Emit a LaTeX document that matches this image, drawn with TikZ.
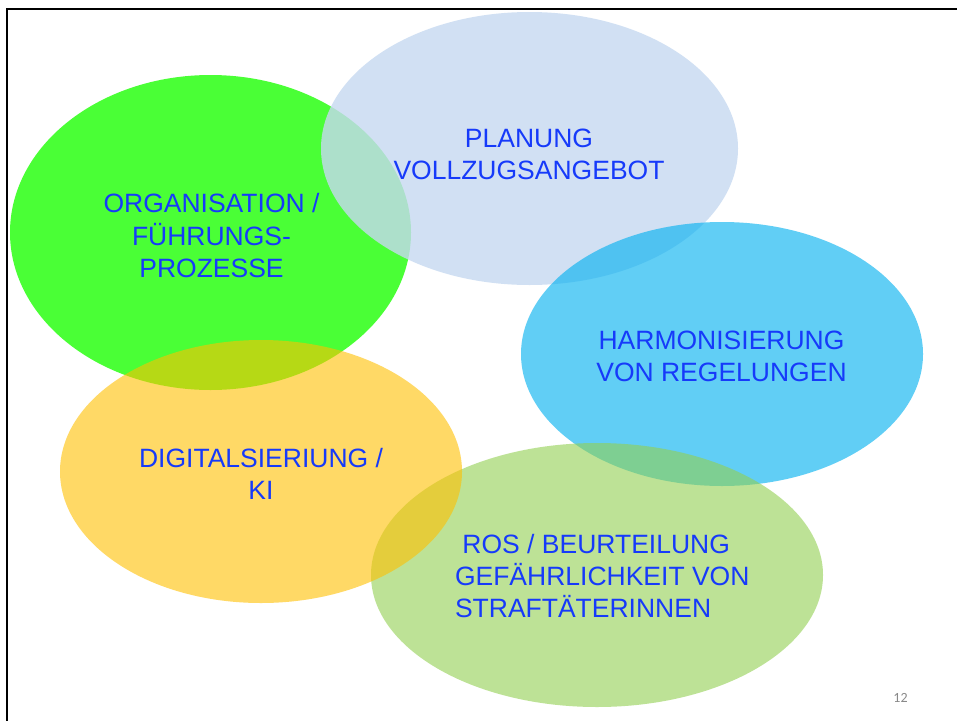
\documentclass[tikz,border=0pt]{standalone}
\usepackage{fontspec}
\setmainfont{Liberation Sans}
\newfontfamily\pnfont{Carlito}
\usetikzlibrary{shapes.geometric}
\definecolor{cGreen}{RGB}{74,255,54}
\definecolor{cPale}{RGB}{198,217,241}
\definecolor{cCyan}{RGB}{0,176,240}
\definecolor{cLime}{RGB}{146,208,80}
\definecolor{cGold}{RGB}{255,192,0}
\definecolor{cText}{RGB}{22,58,250}
\definecolor{cNum}{RGB}{137,137,137}
\newcommand\ctline[1]{\hbox to 0pt{\hss#1\hss}}
\newcommand\lfline[1]{\hbox to 0pt{#1\hss}}
\tikzset{
  blob/.style={ellipse, draw=none, inner sep=0pt, outer sep=0pt},
  label text/.style={inner sep=0pt, anchor=base, text=cText,
    font=\fontsize{26.5}{32.4}\selectfont},
}
\begin{document}
\begin{tikzpicture}[x=1pt,y=-1pt]
\useasboundingbox (0,0) rectangle (957,720);
\fill[white] (0,0) rectangle (957,720);
% frame
\draw[line width=2pt] (7,725) -- (7,8.5) -- (962,8.5);
% ellipses (drawing order matters for transparency)
\node[blob, fill=cGreen, minimum width=401pt, minimum height=315pt] (eOrg) at (210.5,232.5) {};
\node[blob, fill=cPale, fill opacity=0.8, minimum width=417pt, minimum height=273pt] (ePlan) at (529.5,148.5) {};
\node[blob, fill=cCyan, fill opacity=0.62, minimum width=402pt, minimum height=264pt] (eHarm) at (722,354) {};
\node[blob, fill=cLime, fill opacity=0.6, minimum width=452pt, minimum height=264pt] (eRos) at (597,575) {};
\node[blob, fill=cGold, fill opacity=0.6, minimum width=402pt, minimum height=263pt] (eDig) at (261,471.5) {};
% texts
\node[label text] (tPlan) at (529,147.5) {\vtop{\ctline{PLANUNG}\ctline{VOLLZUGSANGEBOT}}};
\node[label text] (tOrg) at (211.5,212.7) {\vtop{\ctline{ORGANISATION /}\ctline{FÜHRUNGS-}\ctline{PROZESSE}}};
\node[label text] (tHarm) at (721.5,349) {\vtop{\ctline{HARMONISIERUNG}\ctline{VON REGELUNGEN}}};
\node[label text] (tDig) at (261,467.5) {\vtop{\ctline{DIGITALSIERIUNG /}\ctline{KI}}};
\node[label text] (tRos) at (455,553) {\vtop{\lfline{\hspace*{7.4pt}ROS / BEURTEILUNG}\lfline{GEFÄHRLICHKEIT VON}\lfline{STRAFTÄTERINNEN}}};
% page number
\node[inner sep=0pt, anchor=base, text=cNum, font=\pnfont\fontsize{14}{16}\selectfont] (pnum) at (900.5,702) {12};
\end{tikzpicture}
\end{document}
